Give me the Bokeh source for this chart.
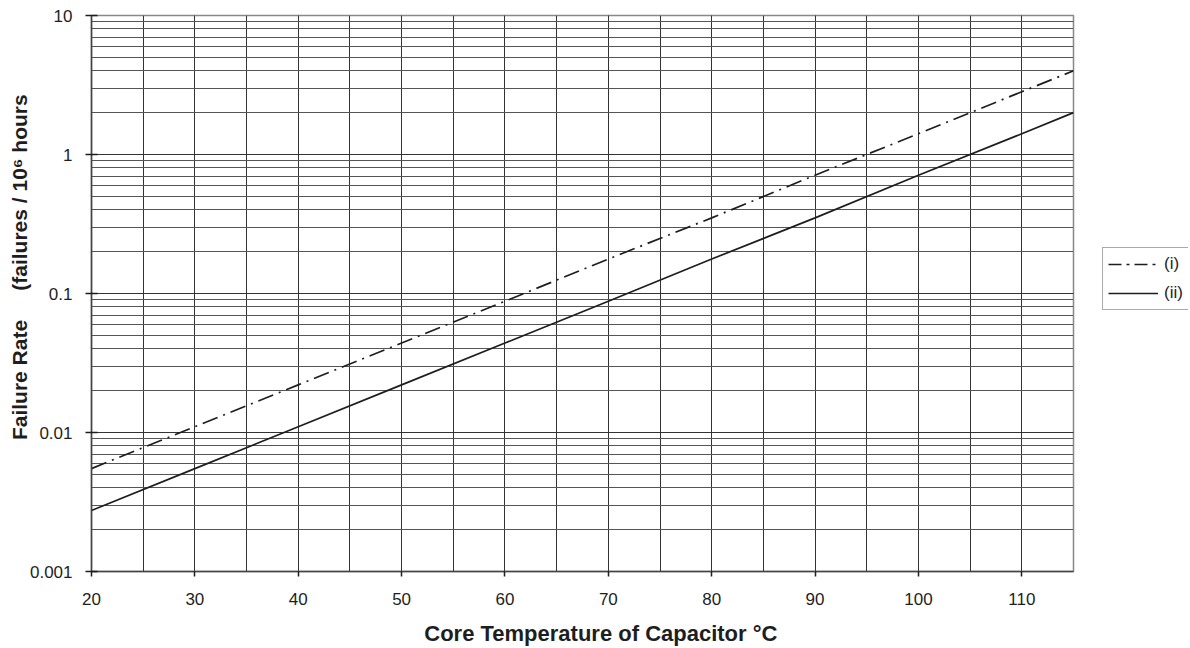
from bokeh.plotting import figure
from bokeh.layouts import row
from bokeh.models import (Range1d, LogTicker, FixedTicker, Legend, LegendItem,
                          CustomJSTickFormatter)
from bokeh.embed import file_html
from bokeh.resources import INLINE

# Data
temps = [20, 30, 40, 50, 60, 70, 80, 90, 100, 110, 115]
rate_i = [0.0055, 0.011, 0.022, 0.044, 0.088, 0.177, 0.35, 0.71, 1.41, 2.83, 4.0]
rate_ii = [0.00275, 0.0055, 0.011, 0.022, 0.044, 0.088, 0.177, 0.35, 0.71, 1.41, 2.0]
series_labels = ["(i)", "(ii)"]
x_ticks = [20, 30, 40, 50, 60, 70, 80, 90, 100, 110]
x_grid = [20, 25, 30, 35, 40, 45, 50, 55, 60, 65, 70, 75, 80, 85, 90, 95, 100, 105, 110, 115]

FONT = "Liberation Sans"
NB = "\u00a0"
INK = "#1e1e1e"
DASH = "16 6 2 6"

p = figure(width=1083, height=648, y_axis_type="log",
           x_range=Range1d(20, 115), y_range=Range1d(0.001, 10),
           output_backend="svg", toolbar_location=None,
           min_border_left=91, min_border_right=10,
           min_border_top=15, min_border_bottom=77)

p.background_fill_color = "white"
p.border_fill_color = "white"
p.outline_line_color = "#888888"
p.outline_line_width = 1.5

p.xaxis.ticker = FixedTicker(ticks=x_ticks, minor_ticks=x_grid)
p.yaxis.ticker = LogTicker(num_minor_ticks=10)
p.yaxis.formatter = CustomJSTickFormatter(code="""
const m = {0.001:'0.001', 0.01:'0.01', 0.1:'0.1', 1:'1', 10:'10'};
const r = Number(tick.toPrecision(3));
return m[r] !== undefined ? m[r] : String(r);
""")

for ax in (p.xaxis[0], p.yaxis[0]):
    ax.axis_line_color = "#444444"
    ax.axis_line_width = 1.5
    ax.major_tick_line_color = INK
    ax.major_tick_line_width = 1.5
    ax.minor_tick_line_color = None
    ax.major_label_text_font = FONT
    ax.major_label_text_font_size = "17px"
    ax.major_label_text_color = INK
    ax.axis_label_text_font = FONT
    ax.axis_label_text_font_style = "bold"
    ax.axis_label_text_color = INK

p.xaxis.axis_label_text_font_size = "22px"
p.yaxis.axis_label_text_font_size = "21px"
p.xaxis.major_tick_in = 0
p.xaxis.major_tick_out = 5
p.yaxis.major_tick_in = 6
p.yaxis.major_tick_out = 6
p.xaxis.major_label_standoff = 16
p.yaxis.major_label_standoff = 13
p.xaxis.axis_label = (NB * 6) + "Core Temperature of Capacitor °C"
p.xaxis.axis_label_standoff = 13
p.yaxis.axis_label = (NB * 9) + "Failure Rate" + (NB * 5) + "(failures / 10\u2076 hours"
p.yaxis.axis_label_standoff = -4

p.xgrid.grid_line_color = "#333333"
p.xgrid.minor_grid_line_color = "#333333"
p.ygrid.grid_line_color = "#333333"
p.ygrid.minor_grid_line_color = "#555555"

p.line(temps, rate_i, line_color=INK, line_width=1.7, line_dash=DASH)
p.line(temps, rate_ii, line_color=INK, line_width=1.7)

# Legend panel to the right of the chart (its frame is aligned with the chart's)
lp = figure(width=105, height=648, x_axis_type=None, y_axis_type=None,
            x_range=Range1d(0, 1), y_range=Range1d(0, 1),
            output_backend="svg", toolbar_location=None,
            min_border=0, outline_line_color=None)
lp.grid.visible = False
off = [-5, -4]  # off-screen sample points so the legend glyphs get drawn
lr1 = lp.line(x=off, y=off, line_color=INK, line_width=1.7, line_dash="13 5 3 5")
lr2 = lp.line(x=off, y=off, line_color=INK, line_width=1.7)

legend = Legend(items=[LegendItem(label=series_labels[0], renderers=[lr1]),
                       LegendItem(label=series_labels[1], renderers=[lr2])],
                location=(19, 261),
                glyph_width=50, glyph_height=22, spacing=7, padding=5, margin=0,
                label_standoff=6,
                label_text_font=FONT, label_text_font_size="17px",
                label_text_color=INK,
                border_line_color="#555555", border_line_width=1.2,
                background_fill_color="white", background_fill_alpha=1)
lp.add_layout(legend, "center")

open("out.html", "w").write(file_html(row(p, lp), INLINE))
